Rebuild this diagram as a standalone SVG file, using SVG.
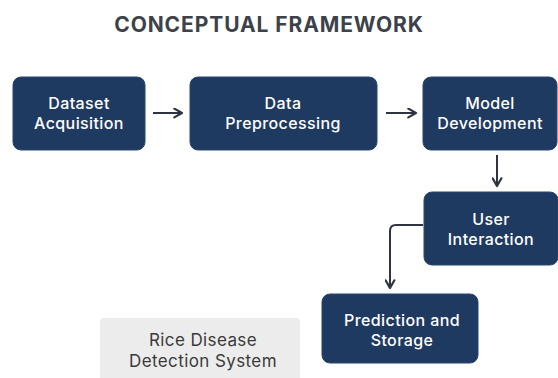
<svg xmlns="http://www.w3.org/2000/svg" width="558" height="378" viewBox="0 0 558 378">
  <defs>
    <marker id="arrow" viewBox="0 0 10 10" refX="8" refY="5" markerWidth="5.5" markerHeight="5.5" orient="auto" markerUnits="strokeWidth">
      <path d="M1,1 L8,5 L1,9" fill="none" stroke="#2f3440" stroke-width="2" stroke-linecap="round" stroke-linejoin="round"/>
    </marker>
    <style>
      .title { font-family: "Inter", "Liberation Sans", sans-serif; font-size: 21px; font-weight: 700; fill: #3d424a; letter-spacing: 0.9px; }
      .node rect { fill: #1f3a60; stroke: #2a4670; stroke-width: 1; }
      .node text { font-family: "Inter", "Liberation Sans", sans-serif; font-size: 16px; font-weight: 500; fill: #ffffff; text-anchor: middle; letter-spacing: 0.4px; }
      .label rect { fill: #ececec; }
      .label text { font-family: "Inter", "Liberation Sans", sans-serif; font-size: 17px; font-weight: 400; fill: #3a3a3a; text-anchor: middle; letter-spacing: 0.4px; }
      .edge { fill: none; stroke: #2f3440; stroke-width: 2; marker-end: url(#arrow); }
    </style>
  </defs>

  <rect width="558" height="378" fill="#ffffff"/>

  <text class="title" x="269" y="32" text-anchor="middle">CONCEPTUAL FRAMEWORK</text>

  <g id="dataset-acquisition" class="node">
    <rect x="13" y="77" width="132" height="73" rx="8"/>
    <text x="79" y="109">Dataset</text>
    <text x="79" y="129">Acquisition</text>
  </g>

  <g id="data-preprocessing" class="node">
    <rect x="190" y="77" width="187" height="73" rx="8"/>
    <text x="283" y="109">Data</text>
    <text x="283" y="129">Preprocessing</text>
  </g>

  <g id="model-development" class="node">
    <rect x="423" y="77" width="134" height="73" rx="8"/>
    <text x="490" y="109">Model</text>
    <text x="490" y="129">Development</text>
  </g>

  <g id="user-interaction" class="node">
    <rect x="424" y="192" width="134" height="73" rx="8"/>
    <text x="491" y="225">User</text>
    <text x="491" y="245">Interaction</text>
  </g>

  <g id="prediction-storage" class="node">
    <rect x="322" y="294" width="156" height="69" rx="8"/>
    <text x="402" y="326">Prediction and</text>
    <text x="402" y="346">Storage</text>
  </g>

  <g id="system-label" class="label">
    <rect x="100" y="318" width="200" height="70" rx="4"/>
    <text x="203" y="346">Rice Disease</text>
    <text x="203" y="367">Detection System</text>
  </g>

  <g id="connectors">
    <path class="edge" d="M153,113 H182"/>
    <path class="edge" d="M386,113 H416"/>
    <path class="edge" d="M497,155 V186"/>
    <path class="edge" d="M423,225 H396 Q390,225 390,231 V288"/>
  </g>
</svg>
